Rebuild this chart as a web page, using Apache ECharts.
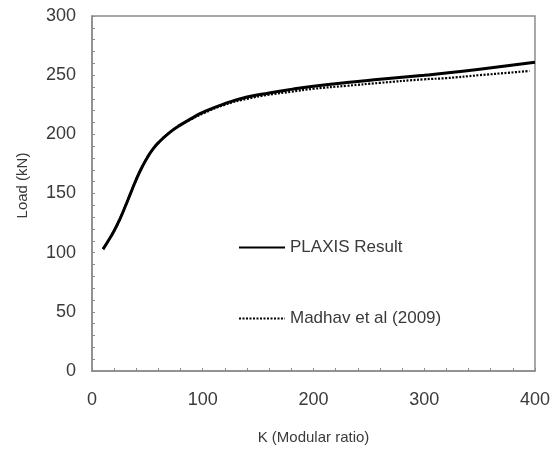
<!DOCTYPE html>
<html>
<head>
<meta charset="utf-8">
<script src="https://cdn.jsdelivr.net/npm/echarts@6/dist/echarts.min.js"></script>
<style>
  html, body { margin: 0; padding: 0; background: #fff; }
  #chart { width: 553px; height: 450px; }
</style>
</head>
<body>
<div id="chart"></div>
<script>
// K (modular ratio) and load values
const kPlaxis    = [10, 15, 20, 25, 30, 35, 40, 45, 50, 55, 60, 70, 80, 90, 100, 120, 140, 160, 180, 200, 230, 260, 300, 320, 350, 400]
const loadPlaxis = [103, 110.5, 118.5, 128, 139, 150.5, 162, 172, 180.5, 187.5, 193, 201.5, 208, 213.5, 218.5, 226, 231.5, 235, 238, 240.7, 243.8, 246.5, 250, 251.8, 255, 261]

const kMadhav    = [10, 15, 20, 25, 30, 35, 40, 45, 50, 55, 60, 70, 80, 90, 100, 120, 140, 160, 180, 200, 230, 260, 300, 320, 350, 395]
const loadMadhav = [103, 110.5, 118.5, 128, 139, 150.5, 162, 172, 180.5, 187.5, 193, 201.5, 207.8, 213, 217.5, 225, 230, 233.5, 236, 238.5, 241, 243.5, 246.5, 247.5, 250, 253.5]

const seriesNames = ['PLAXIS Result', 'Madhav et al (2009)']

const textColor = '#3a3a3a'
const axisColor = '#8c8c8c'
const font      = 'Liberation Sans, Arial, sans-serif'

function pairs(xs, ys) {
  return xs.map((x, i) => [x, ys[i]])
}

const chart = echarts.init(document.getElementById('chart'))

chart.setOption({
  animation: false,
  grid: {
    left  : 92,
    right : 18,
    top   : 16,
    bottom: 75,
    show       : true,
    borderColor: axisColor,
    borderWidth: 1.5
  },
  legend: {
    orient   : 'vertical',
    left     : 233,
    top      : 234,
    itemWidth : 46,
    itemHeight: 20,
    itemGap   : 54,
    itemStyle: { opacity: 0 }, // line only, no marker in the key
    textStyle: {
      color     : textColor,
      fontSize  : 17,
      fontFamily: font
    },
    data: seriesNames
  },
  xAxis: {
    type: 'value',
    min : 0,
    max : 400,
    interval: 100,
    name: 'K (Modular ratio)',
    nameLocation: 'middle',
    nameGap     : 59,
    nameTextStyle: { color: textColor, fontSize: 15, fontFamily: font },
    axisLine : { lineStyle: { color: axisColor, width: 1.5 } },
    axisTick : { inside: true, length: 3, lineStyle: { color: axisColor } },
    minorTick: { show: true, splitNumber: 5, length: 3, lineStyle: { color: axisColor } },
    axisLabel: { color: textColor, fontSize: 18, fontFamily: font, margin: 20 },
    splitLine: { show: false }
  },
  yAxis: {
    type: 'value',
    min : 0,
    max : 300,
    interval: 50,
    name: 'Load (kN)',
    nameLocation: 'middle',
    nameGap     : 62,
    nameTextStyle: { color: textColor, fontSize: 15, fontFamily: font, padding: [0, 0, 0, 16] },
    axisLine : { lineStyle: { color: axisColor, width: 1.5 } },
    axisTick : { inside: true, length: 3, lineStyle: { color: axisColor } },
    minorTick: { show: true, splitNumber: 5, length: 3, lineStyle: { color: axisColor } },
    axisLabel: { color: textColor, fontSize: 18, fontFamily: font, margin: 16 },
    splitLine: { show: false }
  },
  series: [
    {
      name  : seriesNames[0],
      type  : 'line',
      smooth: 0.5,
      symbol: 'none',
      lineStyle: { color: '#000', width: 3 },
      itemStyle: { color: '#000' },
      data  : pairs(kPlaxis, loadPlaxis),
      z: 3
    },
    {
      name  : seriesNames[1],
      type  : 'line',
      smooth: 0.5,
      symbol: 'none',
      lineStyle: { color: '#000', width: 2.2, type: [2, 1.5] },
      itemStyle: { color: '#000' },
      data  : pairs(kMadhav, loadMadhav),
      z: 2
    }
  ]
})
</script>
</body>
</html>
